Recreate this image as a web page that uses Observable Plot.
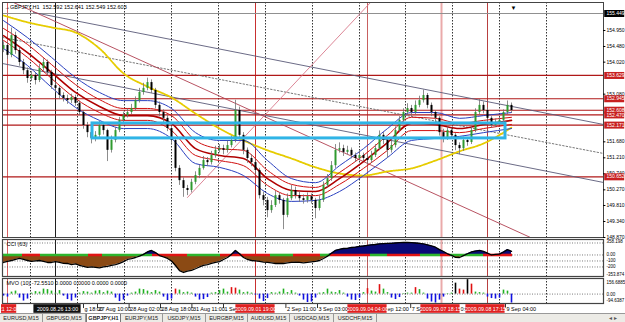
<!DOCTYPE html>
<html><head><meta charset="utf-8">
<script src="https://cdn.jsdelivr.net/npm/d3@7"></script>
<script src="https://cdn.jsdelivr.net/npm/@observablehq/plot@0.6"></script>
<style>
body{margin:0;background:#fff;}
#wrap{position:relative;width:625px;height:322px;overflow:hidden;font-family:"Liberation Sans",Arial,sans-serif;background:#fff;}
#wrap svg{position:absolute;left:0;}
#tabs{position:absolute;left:0;top:313px;width:625px;height:9px;background:#ecebe6;border-top:1px solid #999;display:flex;font-size:5.5px;line-height:8px;color:#222;}
#tabs span{display:block;text-align:center;border-right:1px solid #999;box-sizing:border-box;}
#tabs span.on{background:#fff;font-weight:bold;border:1px solid #777;border-top:none;}
</style></head><body><div id="wrap"></div>
<script>
// ---------- price data (GBPJPY H1, one entry per 2 bars) ----------
const closeP = [154.51,154.22,154.80,154.36,154.01,153.77,153.54,153.63,153.48,153.83,
154.01,153.72,153.33,153.25,153.04,152.95,152.89,152.98,152.81,152.54,
152.16,151.95,151.78,151.87,152.16,152.01,151.43,151.72,152.01,152.31,
152.45,152.54,152.66,152.89,153.13,153.25,153.42,153.19,152.75,152.54,
152.37,152.07,151.72,150.90,150.54,150.31,150.25,150.49,150.69,150.90,
151.13,151.07,151.28,151.43,151.48,151.43,151.57,151.72,152.60,151.87,
151.43,151.19,151.07,150.84,150.10,149.96,149.66,149.81,150.10,149.96,
149.52,150.01,150.25,150.10,150.01,149.96,150.07,149.96,149.72,149.96,
150.40,150.60,150.98,151.43,151.48,151.37,151.43,151.28,151.19,151.28,
151.19,151.13,151.28,151.48,151.87,151.72,151.43,151.57,152.01,152.31,
152.54,152.66,152.54,152.75,152.89,153.04,152.75,152.54,152.37,151.95,
151.78,152.01,151.87,151.57,151.48,151.72,151.66,152.01,152.54,152.75,
152.60,152.37,152.16,152.25,152.31,152.54,152.75,152.60];
const highP = [154.62,154.60,155.02,154.90,154.45,154.10,153.85,153.75,153.70,153.95,
154.12,154.08,153.78,153.42,153.30,153.12,153.05,153.08,153.05,152.88,
152.60,152.25,152.02,151.98,152.28,152.22,152.05,151.85,152.10,152.40,
152.55,152.65,152.78,153.00,153.25,153.40,153.55,153.50,153.25,152.85,
152.62,152.45,152.12,151.78,150.98,150.62,150.40,150.58,150.80,151.00,
151.25,151.22,151.40,151.55,151.60,151.58,151.70,151.85,152.90,152.70,
151.95,151.50,151.30,151.15,150.90,150.20,150.05,149.95,150.22,150.18,
150.02,150.15,150.40,150.35,150.20,150.12,150.18,150.15,150.02,150.08,
150.50,150.72,151.10,151.60,151.65,151.58,151.55,151.50,151.35,151.40,
151.35,151.30,151.40,151.60,152.00,151.95,151.80,151.70,152.12,152.42,
152.65,152.80,152.75,152.88,153.02,153.20,153.10,152.82,152.60,152.42,
152.05,152.12,152.08,151.92,151.65,151.82,151.80,152.12,152.65,152.92,
152.85,152.68,152.42,152.35,152.40,152.62,152.88,152.82];
const lowP = [154.30,154.10,154.15,154.25,153.90,153.65,153.40,153.45,153.35,153.42,
153.75,153.62,153.22,153.12,152.92,152.85,152.78,152.80,152.72,152.45,
152.05,151.80,151.62,151.68,151.80,151.88,151.10,151.35,151.65,151.95,
152.22,152.38,152.48,152.60,152.82,153.05,153.18,153.10,152.65,152.42,
152.25,151.98,151.60,150.80,150.40,150.05,150.10,150.18,150.42,150.60,
150.85,150.95,151.00,151.20,151.35,151.30,151.35,151.50,151.65,151.78,
151.30,151.05,150.95,150.70,150.00,149.80,149.45,149.58,149.75,149.85,
149.10,149.45,149.95,150.00,149.90,149.85,149.88,149.85,149.42,149.65,
149.90,150.32,150.52,150.90,151.35,151.25,151.30,151.18,151.08,151.12,
151.10,151.02,151.05,151.22,151.42,151.60,151.20,151.35,151.50,151.95,
152.25,152.45,152.42,152.48,152.68,152.82,152.65,152.42,152.25,151.85,
151.65,151.72,151.75,151.42,151.30,151.40,151.55,151.60,151.95,152.48,
152.50,152.28,152.08,152.10,152.18,152.25,152.48,152.52];
const firstOpen = 154.40;

// ---------- moving averages (read at these bar positions) ----------
const maIdx   = [0,6,12,18,24,30,36,42,48,54,60,66,72,78,84,90,96,102,108,114,120,127];
const maBlueU = [155.24,154.74,154.16,153.57,153.13,152.89,152.89,152.66,151.95,151.72,151.72,151.13,150.60,150.48,150.98,151.48,152.07,152.54,152.54,152.37,152.45,152.54];
const maRedU  = [155.01,154.54,153.95,153.36,152.92,152.66,152.66,152.45,151.72,151.48,151.43,150.84,150.43,150.34,150.78,151.28,151.87,152.40,152.37,152.22,152.31,152.40];
const maRedM  = [154.80,154.30,153.72,153.13,152.72,152.45,152.45,152.22,151.48,151.28,151.19,150.60,150.25,150.22,150.60,151.10,151.66,152.22,152.19,152.07,152.19,152.31];
const maRedL  = [154.66,154.16,153.54,152.95,152.54,152.31,152.31,152.01,151.28,151.13,150.98,150.40,150.10,150.10,150.43,150.90,151.43,152.01,152.01,151.95,152.07,152.19];
const maBlueL = [154.42,153.92,153.28,152.69,152.31,152.07,152.07,151.78,151.04,150.93,150.69,150.16,149.93,149.96,150.22,150.69,151.22,151.72,151.78,151.84,151.95,152.07];
const maSlow  = [155.39,155.19,155.04,154.89,154.42,153.69,153.30,152.98,152.51,152.07,151.72,151.43,151.19,150.93,150.75,150.69,150.81,150.90,151.13,151.40,151.63,152.10];

// ---------- objects ----------
const hLevels = [153.629,152.945,152.608,152.470,152.171,150.652];
const topLevel = 155.449;
const priceTicks = [154.950,154.480,154.020,153.080,151.680,151.210,150.740,150.270,149.810,149.340,148.870];
const gridX = [6.75,18.5,30.25,42,53.75,65.5,77.25,89,100.5,112.25,124,135.75];
const vLineX = [1,13,63,91,109.5,121];
const trendLines = [
  {name:"gray1", x:[7.5,150], p:[155.479,152.19]},
  {name:"gray2", x:[-0.25,150], p:[153.98,150.486]},
  {name:"dots",  x:[-0.25,150], p:[154.744,151.338]},
  {name:"red",   x:[2.5,131.75], p:[155.772,148.87]},
  {name:"pink",  x:[46,91.75], p:[150.045,155.772]}
];
const boxX = [22.25,125.5], boxP = [151.78,152.22];

// ---------- CCI(63) ----------
const cciV = [-125,-108,-92,-75,-58,-75,-92,-108,-100,-92,
-108,-125,-125,-110,-125,-140,-142,-160,-150,-175,
-190,-208,-200,-208,-215,-200,-190,-175,-160,-140,
-110,-75,-60,-42,-20,10,50,75,40,-10,
-30,-58,-100,-175,-260,-292,-270,-258,-230,-200,
-175,-160,-140,-125,-110,-75,-42,10,75,20,
-42,-75,-92,-100,-108,-120,-125,-130,-142,-140,
-142,-130,-125,-120,-125,-130,-125,-115,-108,-92,
-58,-20,30,75,92,108,110,125,130,142,
150,160,170,175,185,190,192,195,200,205,
208,210,205,200,195,185,170,150,130,90,
58,20,-8,-40,-42,-10,20,50,65,75,
60,30,0,10,15,50,90,60];
const cciLevels = [200,0,-100,-200];
const bandStart = [-0.25,4.75,9.25,21.25,24.75,37.25,46,54.25,66.75,72.5,79.25,81.75,91.75,96,104.25,109.25,111.75,120];
const bandEnd   = [4.75,9.25,21.25,24.75,37.25,46,54.25,66.75,72.5,79.25,81.75,91.75,96,104.25,109.25,111.75,120,127.25];
const bandUp    = [1,0,1,0,1,0,1,0,1,0,1,0,1,0,1,0,1,0];

// ---------- MVO(10) ----------
const mvoV = [-20,-30,20,30,-40,-70,-50,10,25,20,
50,45,30,10,35,-20,-55,-70,-40,10,
25,20,10,30,35,15,30,20,-40,-75,
-60,-20,10,20,50,45,30,15,35,20,
-30,-65,-50,50,40,15,20,10,-30,-60,
-55,-35,10,15,35,50,20,65,60,40,
15,20,10,-10,-50,-75,-45,15,10,20,
50,15,35,10,-20,-60,-85,-80,-40,10,
15,50,20,15,35,10,-30,-60,-65,-40,
15,55,30,20,95,50,15,-40,-55,-35,
5,10,10,65,45,10,-50,-80,-90,-60,
-30,5,10,110,50,40,145,100,20,15,
10,-30,-45,-50,-40,40,30,-90];
const mvoRedIdx = [43,57,58,91,94,103,114,115,117];
const mvoBlackIdx = [113,116];

// ---------- time axis (only the parts left visible beside the tag boxes) ----------
const timeIdx = [20,23.5,31.4,39.25,47.1,55,70.6,78.5,95.75,101.8,114];
const timeLab = ["g 18:00","27 Aug 10:00","28 Aug 02:00","28 Aug 18:00","31 Aug 11:00","1 Sep","2 Sep 11:00","3 Sep 03:00","ep 12:00","7 Se","0:0"];
const timeTick = [1,1,1,1,1,1,1,1,0,1,0];
const tagIdx = [1.4,13.5,63,91,109.25,120.5];
const tagLab = ["21 12:00","2009.08.26 13:00","2009.09.01 19:00","2009.09.04 04:00","2009.09.07 18:15","2009.09.08 17:15"];
const lastLab = "9 Sep 04:00", lastIdx = 125.5;
const tabs = ["EURUSD,M15","GBPUSD,M15","GBPJPY,H1","EURJPY,M15","USDJPY,M15","EURGBP,M15","AUDUSD,M15","USDCAD,M15","USDCHF,M15"];

// ================= drawing =================
const FONT = "'Liberation Sans', Arial, sans-serif";
const xs = {domain:[-0.25,150], axis:null};
const base = {width:625, marginLeft:2, marginRight:22, x:xs, style:{fontFamily:FONT, background:"transparent", overflow:"visible"}};
const vColor = ["#d86060","#202020","#c83030","#c86060","#eaaaaa","#b84040"];
const vMarks = () => [
  Plot.ruleX(gridX, {x:d=>d, stroke:"#000", strokeWidth:0.8, strokeDasharray:"1.5,1.5"}),
  Plot.ruleX(vLineX, {x:d=>d, stroke:(d,i)=>vColor[i], strokeWidth:(d,i)=>i===4?2:1})
];
const R = {frameAnchor:"right", dx:3, textAnchor:"start", fontSize:5, fill:"#000", ariaLabel:"rl"};

const candles = closeP.map((c,i)=>({i, o: i ? closeP[i-1] : firstOpen, c, h: highP[i], l: lowP[i]}));
const ma = (arr)=> maIdx.map((x,k)=>({x, p: arr[k]}));
const tl = trendLines.flatMap(t=>t.x.map((x,k)=>({name:t.name, x, p:t.p[k]})));
const tlStyle = {gray1:["#5a5a78",0.9,null], gray2:["#5a5a78",0.9,null], dots:["#666",0.9,"1.5,2"], red:["#b04050",0.9,null], pink:["#d8788a",0.9,null]};

const mainPlot = Plot.plot({...base, height:238, marginTop:2, marginBottom:1,
  y:{domain:[148.87,155.772], axis:null},
  marks:[
    ...vMarks(),
    Plot.ruleY([topLevel], {y:d=>d, stroke:"#909090", strokeWidth:1.2}),
    Plot.ruleY(hLevels, {y:d=>d, stroke:"#b01818", strokeWidth:1.2}),
    ...Object.keys(tlStyle).map(n=>Plot.line(tl.filter(d=>d.name===n), {x:"x", y:"p", stroke:tlStyle[n][0], strokeWidth:tlStyle[n][1], strokeDasharray:tlStyle[n][2]})),
    Plot.line(ma(maSlow), {x:"x", y:"p", stroke:"#e6cc00", strokeWidth:1.8, strokeDasharray:"1.6,1", curve:"monotone-x"}),
    Plot.line(ma(maBlueU), {x:"x", y:"p", stroke:"#2a40c0", strokeWidth:1, curve:"monotone-x"}),
    Plot.line(ma(maBlueL), {x:"x", y:"p", stroke:"#2a40c0", strokeWidth:1, curve:"monotone-x"}),
    Plot.line(ma(maRedU), {x:"x", y:"p", stroke:"#d01010", strokeWidth:1, curve:"monotone-x"}),
    Plot.line(ma(maRedM), {x:"x", y:"p", stroke:"#b00000", strokeWidth:1.6, curve:"monotone-x"}),
    Plot.line(ma(maRedL), {x:"x", y:"p", stroke:"#d01010", strokeWidth:1, curve:"monotone-x"}),
    Plot.ruleX(candles, {x:"i", y1:"l", y2:"h", stroke:"#707070", strokeWidth:0.8}),
    Plot.ruleX(candles, {x:"i", y1:"o", y2:"c", stroke:d=>d.c>=d.o?"#2f9a2f":"#000", strokeWidth:2}),
    Plot.rect([0], {x1:boxX[0], x2:boxX[1], y1:boxP[0], y2:boxP[1], fill:"none", stroke:"#2fb4e6", strokeWidth:3}),
    Plot.frame({stroke:"#444"}),
    // right axis
    Plot.ruleY(priceTicks, {y:d=>d, x1:150, x2:150.6, stroke:"#000"}),
    Plot.text(priceTicks, {...R, y:d=>d, text:d=>d.toFixed(3)}),
    Plot.ruleY(hLevels, {y:d=>d, x1:150.3, x2:155.3, stroke:"#c82020", strokeWidth:7}),
    Plot.text(hLevels, {...R, y:d=>d, text:d=>d.toFixed(3), fill:"#fff"}),
    Plot.ruleY([topLevel], {y:d=>d, x1:150.3, x2:155.3, stroke:"#000", strokeWidth:7}),
    Plot.text([topLevel], {...R, y:d=>d, text:d=>d.toFixed(3), fill:"#fff"}),
    Plot.text(["\u25BC"], {x:127.5, frameAnchor:"top", dy:3, fontSize:6, fill:"#000"}),
    Plot.text(["\u2192GBPJPY,H1  152.592 152.641 152.549 152.603"], {frameAnchor:"top-left", dx:2, dy:3, textAnchor:"start", fontSize:5.5, fill:"#000"})
  ]});

const pos = cciV.map((v,i)=>({i, v: Math.max(v,0)}));
const neg = cciV.map((v,i)=>({i, v: Math.min(v,0)}));
const cciPlot = Plot.plot({...base, height:39, marginTop:1, marginBottom:1,
  y:{domain:[-353.874,358.198], range:[37.7,-5], axis:null},
  marks:[
    ...vMarks(),
    Plot.ruleY(cciLevels, {y:d=>d, stroke:"#444", strokeWidth:0.7, strokeDasharray:"1,1.5"}),
    Plot.areaY(neg, {x:"i", y1:0, y2:"v", fill:"#8b4a14"}),
    Plot.areaY(pos, {x:"i", y1:0, y2:"v", fill:"#0a0a78"}),
    Plot.ruleY(bandStart, {y:0, x1:d=>d, x2:(d,i)=>bandEnd[i], stroke:(d,i)=>bandUp[i]?"#2eb52e":"#e01414", strokeWidth:2.6}),
    Plot.line(cciV.map((v,i)=>({i,v})), {x:"i", y:"v", stroke:"#000", strokeWidth:1.3}),
    Plot.frame({stroke:"#444", strokeWidth:1.2}),
    Plot.text(["CCI (63)"], {frameAnchor:"top-left", dx:4, dy:3, textAnchor:"start", fontSize:5.5, fill:"#000"}),
    Plot.text(["358.198"], {...R, frameAnchor:"top-right", dy:0, fontSize:4.5}),
    Plot.text(["-353.874"], {...R, frameAnchor:"bottom-right", dy:-1, fontSize:4.5}),
    Plot.text(cciLevels.slice(1), {...R, y:d=>d, text:d=>d===0?"0.00":String(d), fontSize:4.5})
  ]});

const mvoColor = i => mvoBlackIdx.includes(i) ? "#000" : mvoRedIdx.includes(i) ? "#e01010" : (mvoV[i] < 0 ? "#1010e0" : "#20b020");
const mvoPlot = Plot.plot({...base, height:27, marginTop:1, marginBottom:1,
  y:{domain:[-94.6387,156.6885], range:[26,1], axis:null},
  marks:[
    ...vMarks(),
    Plot.ruleY([0], {stroke:"#444", strokeWidth:0.7, strokeDasharray:"1,1.5"}),
    Plot.ruleX(mvoV.map((v,i)=>({i,v})), {x:"i", y1:0, y2:"v", stroke:d=>mvoColor(d.i), strokeWidth:1.6}),
    Plot.frame({stroke:"#444", strokeWidth:1.2}),
    Plot.text(["MVO (10) -72.5510 0.0000 0.0000 0.0000 0.0000"], {frameAnchor:"top-left", dx:4, dy:3, textAnchor:"start", fontSize:5.5, fill:"#000"}),
    Plot.text(["156.6885"], {...R, frameAnchor:"top-right", dy:2, fontSize:4.5}),
    Plot.text(["0.00"], {...R, y:0, fontSize:4.5}),
    Plot.text(["-94.6387"], {...R, frameAnchor:"bottom-right", dy:-2, fontSize:4.5})
  ]});

const tagHalf = (i)=> i===0 ? [1.9, 1.9] : i===1 ? [5.9, 5.9] : [4.9, 4.9];
const timePlot = Plot.plot({...base, height:9, marginTop:0, marginBottom:0,
  y:{domain:[0,1], axis:null},
  marks:[
    Plot.ruleX(timeIdx.filter((d,i)=>timeTick[i]).concat([lastIdx]), {x:d=>d, y1:0.55, y2:1, stroke:"#000", strokeWidth:0.8}),
    Plot.text(timeIdx.concat([lastIdx]), {x:d=>d, y:0.45, dx:1, text:(d,i)=>i<timeLab.length?timeLab[i]:lastLab, textAnchor:"start", fontSize:5.5, fill:"#000", ariaLabel:"tl"}),
    Plot.rect(tagIdx, {x1:(d,i)=>d-tagHalf(i)[0], x2:(d,i)=>d+tagHalf(i)[1], y1:0.02, y2:0.98, fill:(d,i)=>i===1?"#111":"#e02020"}),
    Plot.text(tagIdx, {x:d=>d, y:0.45, text:(d,i)=>tagLab[i], fontSize:5.3, fill:"#fff", ariaLabel:"tg"})
  ]});

const wrap = document.getElementById("wrap");
[[mainPlot,0],[cciPlot,238],[mvoPlot,277],[timePlot,304]].forEach(([svg,top])=>{svg.style.top=top+"px"; wrap.appendChild(svg);});
// compress axis texts to the narrow pixel font of the original
const allLab = timeLab.concat([lastLab]);
d3.select(timePlot).selectAll("g[aria-label=tl] text").attr("textLength",(d,i)=>allLab[i].length*2.25).attr("lengthAdjust","spacingAndGlyphs");
d3.select(timePlot).selectAll("g[aria-label=tg] text").attr("textLength",(d,i)=>i===0?14:36).attr("lengthAdjust","spacingAndGlyphs");
[mainPlot,cciPlot,mvoPlot].forEach(svg=>d3.select(svg).selectAll("g[aria-label=rl] text").each(function(){
  const n=this.textContent.length; d3.select(this).attr("textLength",Math.min(19,n*2.45)).attr("lengthAdjust","spacingAndGlyphs");}));

const tb = document.createElement("div"); tb.id="tabs";
const tw = [43,43,35,42,43,42,42,44,43];
tabs.forEach((t,i)=>{const s=document.createElement("span"); s.textContent=t; s.style.width=tw[i]+"px"; if(i===2) s.className="on"; tb.appendChild(s);});
const arr = document.createElement("span"); arr.textContent="\u25C2 \u25B8"; arr.style.cssText="margin-left:auto;width:24px;border:none;color:#555"; tb.appendChild(arr);
wrap.appendChild(tb);
</script></body></html>
